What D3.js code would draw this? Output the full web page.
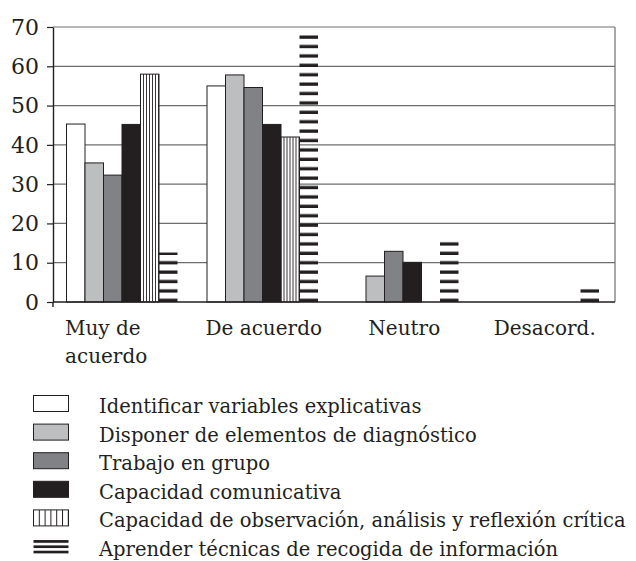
<!DOCTYPE html>
<html>
<head>
<meta charset="utf-8">
<script src="https://cdn.jsdelivr.net/npm/d3@7"></script>
<style>
  html, body { margin: 0; padding: 0; background: #fff; }
  svg { display: block; }
</style>
</head>
<body>
<svg id="chart" width="636" height="561"></svg>
<script>
const categories = ['Muy de acuerdo', 'De acuerdo', 'Neutro', 'Desacord.'];
const categoryLines = [['Muy de', 'acuerdo'], ['De acuerdo'], ['Neutro'], ['Desacord.']];

const seriesNames = [
  'Identificar variables explicativas',
  'Disponer de elementos de diagnóstico',
  'Trabajo en grupo',
  'Capacidad comunicativa',
  'Capacidad de observación, análisis y reflexión crítica',
  'Aprender técnicas de recogida de información'
];

const identificar = [45.3, 55.0, 0, 0];
const disponer = [35.4, 57.8, 6.6, 0];
const trabajo = [32.3, 54.6, 12.9, 0];
const comunicativa = [45.2, 45.2, 10.1, 0];
const observacion = [58.0, 42.0, 0, 0];
const aprender = [12.6, 68.4, 16.2, 3.4];

const seriesValues = [identificar, disponer, trabajo, comunicativa, observacion, aprender];
const yTicks = [0, 10, 20, 30, 40, 50, 60, 70];

const FONT = '"DejaVu Serif", "Liberation Serif", serif';
const INK = '#231f20';
const GRID = '#6d6e71';
const FILLS = ['#ffffff', '#bcbec0', '#808285', INK, 'url(#vhatch)', 'url(#hhatch)'];
const LEGEND_FILLS = ['#ffffff', '#bcbec0', '#808285', INK, 'url(#vhatch-lg)', 'url(#hhatch-lg)'];

const svg = d3.select('#chart');
const plot = { left: 53, right: 615, top: 27, bottom: 302 };

const x0 = d3.scaleBand().domain(categories).range([plot.left, plot.right]).padding(0);
const x1 = d3.scaleBand().domain(seriesNames).range([13.5, 13.5 + 6 * 18.5]).padding(0);
const y = d3.scaleLinear().domain([0, 70]).range([plot.bottom, plot.top]);

// patterns
const defs = svg.append('defs');
const vh = defs.append('pattern').attr('id', 'vhatch')
  .attr('patternUnits', 'userSpaceOnUse').attr('width', 3).attr('height', 10);
vh.append('rect').attr('width', 3).attr('height', 10).attr('fill', '#fff');
vh.append('rect').attr('x', 0).attr('width', 0.9).attr('height', 10).attr('fill', INK);

const hh = defs.append('pattern').attr('id', 'hhatch')
  .attr('patternUnits', 'userSpaceOnUse').attr('width', 1000).attr('height', 9.4)
  .attr('y', plot.bottom);
hh.append('rect').attr('y', 9.4 - 3.3).attr('width', 1000).attr('height', 3.3).attr('fill', INK);

const vhl = defs.append('pattern').attr('id', 'vhatch-lg')
  .attr('patternUnits', 'userSpaceOnUse').attr('width', 5.8).attr('height', 10).attr('x', 33);
vhl.append('rect').attr('width', 5.8).attr('height', 10).attr('fill', '#fff');
vhl.append('rect').attr('x', 0).attr('width', 1).attr('height', 10).attr('fill', INK);

const hhl = defs.append('pattern').attr('id', 'hhatch-lg')
  .attr('patternUnits', 'userSpaceOnUse').attr('width', 1000).attr('height', 5.3);
hhl.append('rect').attr('y', 0).attr('width', 1000).attr('height', 2.7).attr('fill', INK);

// gridlines
svg.append('g')
  .selectAll('line')
  .data(yTicks.filter((d) => d > 0))
  .join('line')
  .attr('x1', plot.left).attr('x2', plot.right)
  .attr('y1', (d) => y(d)).attr('y2', (d) => y(d))
  .attr('stroke', GRID).attr('stroke-width', 1.2);

svg.append('line')
  .attr('x1', plot.right).attr('x2', plot.right)
  .attr('y1', y(70)).attr('y2', y(0))
  .attr('stroke', GRID).attr('stroke-width', 1.2);

// bars
const rows = categories.map((c, ci) => ({ cat: c, vals: seriesValues.map((s, si) => ({ name: seriesNames[si], si, v: s[ci] })) }));

const groups = svg.append('g').selectAll('g')
  .data(rows)
  .join('g')
  .attr('transform', (d) => `translate(${x0(d.cat)},0)`);

groups.selectAll('rect')
  .data((d) => d.vals.filter((v) => v.v > 0))
  .join('rect')
  .attr('x', (d) => x1(d.name))
  .attr('y', (d) => y(d.v))
  .attr('width', x1.bandwidth())
  .attr('height', (d) => y(0) - y(d.v))
  .attr('fill', (d) => FILLS[d.si])
  .attr('stroke', (d) => (d.si === 5 ? 'none' : INK))
  .attr('stroke-width', 1);

// axes
const yAxis = svg.append('g')
  .attr('transform', `translate(${plot.left},0)`)
  .call(d3.axisLeft(y).tickValues(yTicks).tickSize(6).tickPadding(8).tickSizeOuter(0))
  .attr('font-family', FONT)
  .attr('font-size', 22);
yAxis.select('.domain').attr('stroke', INK).attr('stroke-width', 1.4);
yAxis.selectAll('line').attr('stroke', INK).attr('stroke-width', 1.2);
yAxis.selectAll('text').attr('fill', INK).attr('dy', '0.33em');

svg.append('line')
  .attr('x1', plot.left).attr('x2', plot.left)
  .attr('y1', y(0)).attr('y2', y(0) + 5)
  .attr('stroke', INK).attr('stroke-width', 1.4);

svg.append('line')
  .attr('x1', plot.left).attr('x2', plot.right)
  .attr('y1', y(0)).attr('y2', y(0))
  .attr('stroke', INK).attr('stroke-width', 1.4);

// category labels
const catLabels = svg.append('g')
  .attr('font-family', FONT).attr('font-size', 20).attr('fill', INK)
  .selectAll('text')
  .data(categories)
  .join('text')
  .attr('x', (d, i) => (categoryLines[i].length > 1 ? x0(d) + 12 : x0(d) + x0.bandwidth() / 2))
  .attr('y', 335)
  .attr('text-anchor', (d, i) => (categoryLines[i].length > 1 ? 'start' : 'middle'));
catLabels.each(function (d, i) {
  const t = d3.select(this);
  categoryLines[i].forEach((line, li) => {
    t.append('tspan')
      .attr('x', t.attr('x'))
      .attr('dy', li === 0 ? 0 : 28)
      .text(line);
  });
});

// legend
const legend = svg.append('g')
  .attr('font-family', FONT).attr('font-size', 19.5).attr('fill', INK)
  .selectAll('g')
  .data(seriesNames)
  .join('g')
  .attr('transform', (d, i) => `translate(0,${413 + i * 28.6})`);

legend.append('rect')
  .attr('x', 33.5).attr('y', -17.5)
  .attr('width', 35).attr('height', 16)
  .attr('fill', (d, i) => LEGEND_FILLS[i])
  .attr('stroke', (d, i) => (i === 5 ? 'none' : INK))
  .attr('stroke-width', 1);

legend.append('text')
  .attr('x', 99).attr('y', 0)
  .text((d) => d);
</script>
</body>
</html>
